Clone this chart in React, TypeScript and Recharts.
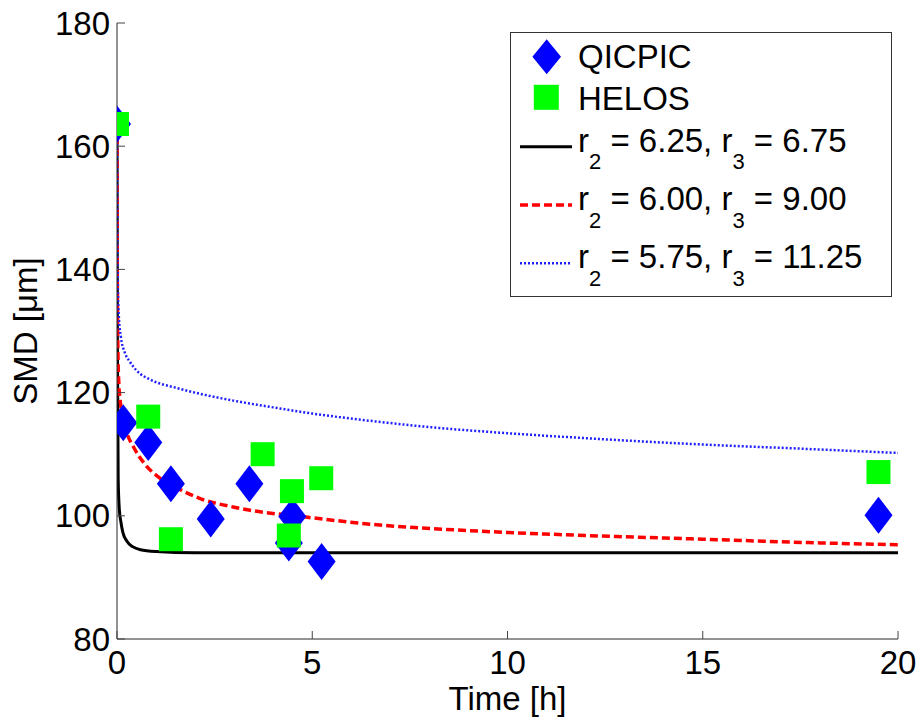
import React from 'react';
import { ComposedChart, Scatter, Line, XAxis, YAxis, Legend } from 'recharts';

const FONT = '"Liberation Sans", Arial, Helvetica, sans-serif';

// ---------- data ----------
const X_TICKS = [0, 5, 10, 15, 20];
const Y_TICKS = [80, 100, 120, 140, 160, 180];

const QICPIC_T = [0, 0.16, 0.8, 1.38, 2.4, 3.39, 4.4, 4.49, 5.24, 19.5];
const QICPIC_SMD = [163.6, 115.1, 111.9, 105.2, 99.5, 105.2, 95.6, 99.9, 92.6, 100.1];

const HELOS_T = [0, 0.8, 1.38, 3.73, 4.4, 4.48, 5.23, 19.5];
const HELOS_SMD = [163.6, 116.1, 96.2, 110.0, 96.8, 104.0, 106.1, 107.1];

const BLACK_T = [0, 0.01, 0.03, 0.06, 0.1, 0.15, 0.25, 0.4, 0.6, 1, 2, 20];
const BLACK_SMD = [163.6, 128, 106, 101, 99, 97.3, 95.9, 95.0, 94.5, 94.2, 94.0, 94.0];

const RED_T = [0, 0.005, 0.02, 0.05, 0.08, 0.15, 0.25, 0.42, 0.7, 1.1, 1.6, 2.13, 3, 3.41, 4.69, 6.73, 9, 12, 15, 18, 20];
const RED_SMD = [163.6, 145, 128, 121, 118.8, 116, 113.5, 111.2, 108.5, 106.1, 104.3, 102.8, 101.4, 100.9, 99.9, 98.5, 97.6, 96.8, 96.2, 95.6, 95.3];

const BLUE_T = [0, 0.005, 0.02, 0.05, 0.1, 0.2, 0.33, 0.5, 0.89, 1.5, 2.2, 2.98, 4, 5, 6.65, 8, 9.8, 12, 14.9, 17.5, 20];
const BLUE_SMD = [163.6, 150, 138, 132, 129, 126.5, 125, 123.6, 122.0, 120.8, 119.7, 118.7, 117.6, 116.6, 115.3, 114.4, 113.5, 112.6, 111.6, 110.9, 110.2];

const SERIES_NAMES = ['QICPIC', 'HELOS'];
const LINE_R2 = ['6.25', '6.00', '5.75'];
const LINE_R3 = ['6.75', '9.00', '11.25'];

const zip = (t: number[], v: number[]) => t.map((x, i) => ({ t: x, smd: v[i] }));
const qicpicData = zip(QICPIC_T, QICPIC_SMD);
const helosData = zip(HELOS_T, HELOS_SMD);
const blackData = zip(BLACK_T, BLACK_SMD);
const redData = zip(RED_T, RED_SMD);
const blueData = zip(BLUE_T, BLUE_SMD);

// ---------- layout ----------
const W = 920;
const H = 720;
const Y_AXIS_W = 117;
const X_AXIS_H = 81;
const MARGIN = { top: 23, right: 22, bottom: 0, left: 0 };
const PLOT_LEFT = Y_AXIS_W;
const PLOT_RIGHT = W - MARGIN.right;
const PLOT_TOP = MARGIN.top;
const PLOT_BOTTOM = H - X_AXIS_H;
const TICK_LEN = 8;
const AXIS_COLOR = '#262626';
const TICK_COLOR = '#444';
const FS = 33;

const BottomTick = (props: any) => {
  const { x, payload } = props;
  return (
    <g>
      <line x1={x} x2={x} y1={PLOT_BOTTOM} y2={PLOT_BOTTOM - TICK_LEN} stroke={TICK_COLOR} />
      <text x={x} y={PLOT_BOTTOM + 35} textAnchor="middle" fontSize={FS} fontFamily={FONT} fill="#000">
        {payload.value}
      </text>
    </g>
  );
};

const TopTick = (props: any) => {
  const { x } = props;
  return <line x1={x} x2={x} y1={PLOT_TOP} y2={PLOT_TOP + TICK_LEN} stroke={TICK_COLOR} />;
};

const LeftTick = (props: any) => {
  const { y, payload } = props;
  return (
    <g>
      <line x1={PLOT_LEFT} x2={PLOT_LEFT + TICK_LEN} y1={y} y2={y} stroke={TICK_COLOR} />
      <text x={PLOT_LEFT - 7} y={y} dy="0.35em" textAnchor="end" fontSize={FS} fontFamily={FONT} fill="#000">
        {payload.value}
      </text>
    </g>
  );
};

const RightTick = (props: any) => {
  const { y } = props;
  return <line x1={PLOT_RIGHT} x2={PLOT_RIGHT - TICK_LEN} y1={y} y2={y} stroke={TICK_COLOR} />;
};

const diamondPts = (cx: number, cy: number, hw: number, hh: number) =>
  `${cx},${cy - hh} ${cx + hw},${cy} ${cx},${cy + hh} ${cx - hw},${cy}`;

const Diamond = (props: any) => {
  const { cx, cy } = props;
  if (cx == null || cy == null) return <g />;
  return <polygon points={diamondPts(cx, cy, 14, 18.5)} fill="#0000ff" />;
};

const Square = (props: any) => {
  const { cx, cy } = props;
  if (cx == null || cy == null) return <g />;
  return <rect x={cx - 12} y={cy - 12} width={24} height={24} fill="#00ff00" />;
};

const LEG_W = 382;
const LEG_H = 265;

const renderLegend = () => {
  const lineStyles = [
    { stroke: '#000', width: 3, dash: undefined as string | undefined },
    { stroke: '#ff0000', width: 3.5, dash: '8 4' },
    { stroke: '#1f1fff', width: 2.5, dash: '2 2' },
  ];
  return (
    <svg width={LEG_W} height={LEG_H} style={{ display: 'block' }}>
      <rect x={0.5} y={0.5} width={LEG_W - 1} height={LEG_H - 1} fill="#fff" stroke="#333" />
      <polygon points={diamondPts(36.7, 24.7, 14.3, 17.5)} fill="#0000ff" />
      <text x={68} y={36.3} fontSize={FS} fontFamily={FONT} fill="#000">{SERIES_NAMES[0]}</text>
      <rect x={36.3 - 12.5} y={65.3 - 12.5} width={25} height={25} fill="#00ff00" />
      <text x={68} y={78} fontSize={FS} fontFamily={FONT} fill="#000">{SERIES_NAMES[1]}</text>
      {LINE_R2.map((r2, i) => {
        const base = 119.7 + i * 58.3;
        const ly = base - 5;
        const s = lineStyles[i];
        return (
          <g key={i}>
            <line x1={10} x2={62} y1={ly} y2={ly} stroke={s.stroke} strokeWidth={s.width} strokeDasharray={s.dash} />
            <text x={68} y={base} fontSize={FS} fontFamily={FONT} fill="#000">
              r
              <tspan fontSize={22} dy={17.6}>2</tspan>
              <tspan dy={-17.6}>{` = ${r2}, r`}</tspan>
              <tspan fontSize={22} dy={17.6}>3</tspan>
              <tspan dy={-17.6}>{` = ${LINE_R3[i]}`}</tspan>
            </text>
          </g>
        );
      })}
    </svg>
  );
};

const XLabel = (props: any) => {
  const { viewBox } = props;
  const cx = viewBox.x + viewBox.width / 2;
  return (
    <text x={cx} y={710} textAnchor="middle" fontSize={FS} fontFamily={FONT} fill="#000">
      Time [h]
    </text>
  );
};

const YLabel = (props: any) => {
  const { viewBox } = props;
  const cy = viewBox.y + viewBox.height / 2;
  const x = 37;
  return (
    <text x={x} y={cy} transform={`rotate(-90 ${x} ${cy})`} textAnchor="middle" fontSize={FS} fontFamily={FONT} fill="#000">
      SMD [μm]
    </text>
  );
};

export default function App() {
  return (
    <div style={{ position: 'absolute', left: 0, top: 0, width: W, height: H, background: '#fff' }}>
      <ComposedChart width={W} height={H} margin={MARGIN}>
        <XAxis
          xAxisId="bottom"
          dataKey="t"
          type="number"
          domain={[0, 20]}
          ticks={X_TICKS}
          allowDataOverflow
          height={X_AXIS_H}
          tickLine={false}
          tickSize={0}
          tickMargin={12}
          tick={<BottomTick />}
          axisLine={{ stroke: AXIS_COLOR, strokeWidth: 1 }}
          interval={0}
          label={<XLabel />}
        />
        <XAxis
          xAxisId="top"
          orientation="top"
          dataKey="t"
          type="number"
          domain={[0, 20]}
          ticks={X_TICKS}
          allowDataOverflow
          height={0}
          tickLine={false}
          tickSize={0}
          tick={<TopTick />}
          axisLine={{ stroke: AXIS_COLOR, strokeWidth: 1 }}
          interval={0}
        />
        <YAxis
          yAxisId="left"
          dataKey="smd"
          type="number"
          domain={[80, 180]}
          ticks={Y_TICKS}
          allowDataOverflow
          width={Y_AXIS_W}
          tickLine={false}
          tickSize={0}
          tickMargin={7}
          tick={<LeftTick />}
          axisLine={{ stroke: AXIS_COLOR, strokeWidth: 1 }}
          interval={0}
          label={<YLabel />}
        />
        <YAxis
          yAxisId="right"
          orientation="right"
          dataKey="smd"
          type="number"
          domain={[80, 180]}
          ticks={Y_TICKS}
          allowDataOverflow
          width={0}
          tickLine={false}
          tickSize={0}
          tick={<RightTick />}
          axisLine={{ stroke: AXIS_COLOR, strokeWidth: 1 }}
          interval={0}
        />
        <Scatter
          name={SERIES_NAMES[0]}
          data={qicpicData}
          xAxisId="bottom"
          yAxisId="left"
          shape={<Diamond />}
          isAnimationActive={false}
        />
        <Scatter
          name={SERIES_NAMES[1]}
          data={helosData}
          xAxisId="bottom"
          yAxisId="left"
          shape={<Square />}
          isAnimationActive={false}
        />
        <Line
          data={blackData}
          dataKey="smd"
          xAxisId="bottom"
          yAxisId="left"
          type="monotone"
          stroke="#000"
          strokeWidth={3}
          dot={false}
          activeDot={false}
          isAnimationActive={false}
        />
        <Line
          data={redData}
          dataKey="smd"
          xAxisId="bottom"
          yAxisId="left"
          type="monotone"
          stroke="#ff0000"
          strokeWidth={3.5}
          strokeDasharray="8 4"
          dot={false}
          activeDot={false}
          isAnimationActive={false}
        />
        <Line
          data={blueData}
          dataKey="smd"
          xAxisId="bottom"
          yAxisId="left"
          type="monotone"
          stroke="#1f1fff"
          strokeWidth={2.5}
          strokeDasharray="2 2"
          dot={false}
          activeDot={false}
          isAnimationActive={false}
        />
        <Legend
          layout="horizontal"
          verticalAlign="middle"
          align="center"
          content={renderLegend}
          wrapperStyle={{ left: 510, top: 32, width: LEG_W, height: LEG_H }}
        />
      </ComposedChart>
    </div>
  );
}
